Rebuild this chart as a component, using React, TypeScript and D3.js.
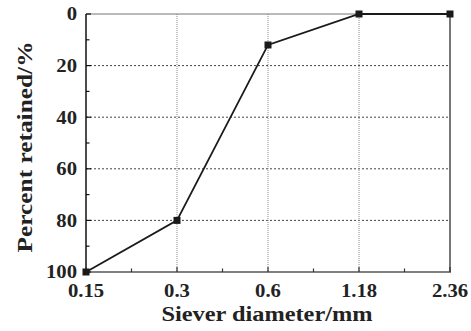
import React from "react";
import * as d3 from "d3";

const categories = ["0.15", "0.3", "0.6", "1.18", "2.36"];
const retained = [100, 80, 12, 0, 0];
const yTicks = [0, 20, 40, 60, 80, 100];
const yMinorTicks = [10, 30, 50, 70, 90];
const xTitle = "Siever diameter/mm";
const yTitle = "Percent retained/%";

const W = 471;
const H = 331;
const margin = { left: 86, right: 21, top: 14, bottom: 59 };
const FONT = "Liberation Serif";
const SX = 1.15;

export default function App() {
  const x = d3
    .scalePoint<string>()
    .domain(categories)
    .range([margin.left, W - margin.right]);
  const y = d3
    .scaleLinear()
    .domain([0, 100])
    .range([margin.top, H - margin.bottom]);
  const step = x.step();
  const xMinor = categories.slice(0, -1).map((c) => (x(c) as number) + step / 2);
  const line = d3
    .line<number>()
    .x((_, i) => x(categories[i]) as number)
    .y((d) => y(d));
  const left = margin.left;
  const right = W - margin.right;
  const top = margin.top;
  const bottom = H - margin.bottom;

  return (
    <svg
      width={W}
      height={H}
      style={{ position: "absolute", left: 0, top: 0, background: "#fff" }}
    >
      {/* grid */}
      {yTicks
        .filter((t) => t !== 0 && t !== 100)
        .map((t) => (
          <line
            key={"gy" + t}
            x1={left}
            x2={right}
            y1={y(t)}
            y2={y(t)}
            stroke="#444"
            strokeWidth={1}
            strokeDasharray="2,2"
          />
        ))}
      {categories.slice(1, -1).map((c) => (
        <line
          key={"gx" + c}
          x1={x(c)}
          x2={x(c)}
          y1={top}
          y2={bottom}
          stroke="#888"
          strokeWidth={1}
          strokeDasharray="1,1"
        />
      ))}
      {/* frame */}
      <line x1={left} x2={right} y1={top} y2={top} stroke="#777" strokeWidth={1} />
      <line x1={right} x2={right} y1={top} y2={bottom} stroke="#777" strokeWidth={2} />
      <line x1={left} x2={right + 1} y1={bottom} y2={bottom} stroke="#555" strokeWidth={1.5} />
      <line x1={left} x2={left} y1={top} y2={bottom} stroke="#111" strokeWidth={1.5} />
      {/* ticks */}
      {yTicks.map((t) => (
        <line key={"ty" + t} x1={left} x2={left + 5} y1={y(t)} y2={y(t)} stroke="#111" strokeWidth={1.2} />
      ))}
      {yMinorTicks.map((t) => (
        <line key={"tym" + t} x1={left} x2={left + 3.5} y1={y(t)} y2={y(t)} stroke="#111" strokeWidth={1.2} />
      ))}
      {categories.map((c) => (
        <line key={"tx" + c} x1={x(c)} x2={x(c)} y1={bottom} y2={bottom - 5} stroke="#333" strokeWidth={1.2} />
      ))}
      {xMinor.map((v, i) => (
        <line key={"txm" + i} x1={v} x2={v} y1={bottom} y2={bottom - 3.5} stroke="#333" strokeWidth={1.2} />
      ))}
      {/* data */}
      <path d={line(retained) || ""} fill="none" stroke="#1a1a1a" strokeWidth={1.8} />
      {retained.map((v, i) => (
        <rect
          key={"m" + i}
          x={(x(categories[i]) as number) - 3.5}
          y={y(v) - 3.5}
          width={7}
          height={7}
          fill="#1a1a1a"
        />
      ))}
      {/* tick labels */}
      {yTicks.map((t) => (
        <text
          key={"ly" + t}
          transform={`translate(${left - 9}, ${y(t)}) scale(${SX}, 1)`}
          dy="0.35em"
          textAnchor="end"
          fontFamily={FONT}
          fontSize={18}
          fontWeight="bold"
          fill="#222"
        >
          {t}
        </text>
      ))}
      {categories.map((c) => (
        <text
          key={"lx" + c}
          transform={`translate(${x(c)}, ${bottom + 25}) scale(${SX}, 1)`}
          textAnchor="middle"
          fontFamily={FONT}
          fontSize={18}
          fontWeight="bold"
          fill="#222"
        >
          {c}
        </text>
      ))}
      {/* titles */}
      <text
        x={(left + right) / 2 - 1}
        y={H - 10}
        textAnchor="middle"
        fontFamily={FONT}
        fontSize={20}
        fontWeight="bold"
        fill="#222"
        textLength={211}
        lengthAdjust="spacingAndGlyphs"
      >
        {xTitle}
      </text>
      <text
        transform={`translate(32, ${(top + bottom) / 2 + 4}) rotate(-90)`}
        textAnchor="middle"
        fontFamily={FONT}
        fontSize={20}
        fontWeight="bold"
        fill="#222"
        textLength={211}
        lengthAdjust="spacingAndGlyphs"
      >
        {yTitle}
      </text>
    </svg>
  );
}
